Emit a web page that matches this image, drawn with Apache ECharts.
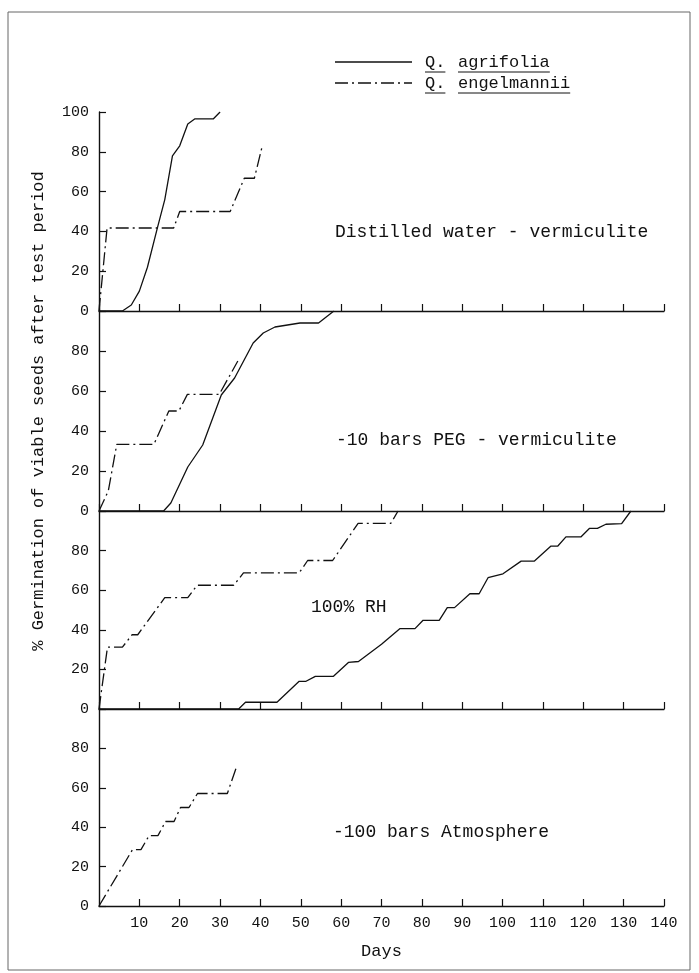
<!DOCTYPE html>
<html>
<head>
<meta charset="utf-8">
<script src="https://cdn.jsdelivr.net/npm/echarts@6/dist/echarts.min.js"></script>
<style>
html, body { margin: 0; padding: 0; background: #fff; }
#chart { width: 699px; height: 973px; }
</style>
</head>
<body>
<div id="chart"></div>
<script>
// values (days, % germination)
const waterAgriDays = [0, 5.8, 8, 10, 12, 14.5, 16.3, 18.2, 20, 22, 23.7, 28.3, 30]
const waterAgriPct = [0, 0, 3, 10, 22, 42, 56, 78, 83, 94, 96.5, 96.5, 100]
const waterEngDays = [0, 2, 18.5, 20, 32.5, 36, 38.5, 40.5]
const waterEngPct = [0, 41.7, 41.7, 50, 50, 66.7, 66.7, 83.3]

const pegAgriDays = [0, 16, 17.8, 22, 25.7, 30.3, 33.6, 38.2, 40.7, 43.6, 49.8, 54.4, 58.2]
const pegAgriPct = [0, 0, 4, 22, 33, 58, 66.5, 84, 89, 92, 94, 94, 100]
const pegEngDays = [0, 2.3, 4.4, 13.6, 17.3, 19.8, 21.9, 29.8, 34.4]
const pegEngPct = [0, 10, 33.3, 33.3, 50, 50, 58.3, 58.3, 75]

const rhAgriDays = [0, 34.6, 36.3, 44.1, 49.6, 51.3, 53.6, 58.1, 61.8, 64.3, 70, 74.6, 78.3, 80.3, 84.3,
    86.3, 88.1, 91.9, 94.2, 96.4, 100.1, 104.6, 107.9, 112, 113.7, 115.7, 119.4, 121.5, 123.5, 125.6, 129.5, 131.8]
const rhAgriPct = [0, 0, 3.4, 3.4, 14, 14, 16.5, 16.5, 23.5, 24, 32.7, 40.6, 40.6, 44.8, 44.8,
    51.2, 51.2, 58.2, 58.2, 66.3, 68.3, 74.7, 74.7, 82.3, 82.3, 86.9, 86.9, 91.2, 91.2, 93.3, 93.6, 100]
const rhEngDays = [0, 2.1, 5.8, 8.2, 9.6, 16.3, 22, 24.3, 33.4, 35.8, 49.6, 51.7, 57.9, 64.2, 72.3, 74.1]
const rhEngPct = [0, 31.25, 31.25, 37.5, 37.5, 56.25, 56.25, 62.5, 62.5, 68.75, 68.75, 75, 75, 93.75, 93.75, 100]

const atmEngDays = [0, 8.3, 10.4, 12.4, 14.6, 16.5, 18.6, 20.2, 22.3, 24.4, 31.8, 34.2]
const atmEngPct = [0, 28.6, 28.6, 35.7, 35.7, 42.9, 42.9, 50, 50, 57.1, 57.1, 71.4]

const panelNames = ['Distilled water - vermiculite', '-10 bars PEG - vermiculite', '100% RH', '-100 bars Atmosphere']
const speciesNames = ['agrifolia', 'engelmannii']

const font = '"Liberation Mono", monospace'
const ink = '#111'
const dashDot = [13, 4, 2, 4]

function zip(xs, ys) {
    return xs.map((x, i) => [x, ys[i]])
}

// panel layout
const left = 99, width = 565
const tops = [112, 311, 511, 709]
const heights = [199, 200, 198, 197]

let grids = [], xAxes = [], yAxes = []
for (let i = 0; i < 4; i++) {
    grids.push({left: left, width: width, top: tops[i], height: heights[i]})
    xAxes.push({
        type: 'value', gridIndex: i, min: 0, max: 140, interval: 10,
        axisLine: {lineStyle: {color: ink, width: 1.4}},
        axisTick: {inside: true, length: 7, lineStyle: {color: ink, width: 1.2}},
        axisLabel: {show: i === 3, showMinLabel: false, color: ink, fontFamily: font, fontSize: 15, margin: 10},
        splitLine: {show: false},
        name: i === 3 ? 'Days' : '', nameLocation: 'middle', nameGap: 37,
        nameTextStyle: {color: ink, fontFamily: font, fontSize: 17}
    })
    yAxes.push({
        type: 'value', gridIndex: i, min: 0, max: 100, interval: 20,
        axisLine: {show: true, lineStyle: {color: ink, width: 1.4}},
        axisTick: {show: true, inside: true, length: 7, lineStyle: {color: ink, width: 1.2}},
        axisLabel: {color: ink, fontFamily: font, fontSize: 15, margin: 10, showMaxLabel: i === 0},
        splitLine: {show: false},
        name: i === 1 ? '% Germination of viable seeds after test period' : '',
        nameLocation: 'middle', nameGap: 52, nameRotate: 90,
        nameTextStyle: {color: ink, fontFamily: font, fontSize: 17}
    })
}

function solid(idx, data) {
    return {type: 'line', xAxisIndex: idx, yAxisIndex: idx, data: data, symbol: 'none',
        lineStyle: {color: ink, width: 1.3}, z: 3}
}
function dashed(idx, data) {
    return {type: 'line', xAxisIndex: idx, yAxisIndex: idx, data: data, symbol: 'none',
        lineStyle: {color: ink, width: 1.3, type: dashDot}, z: 3}
}

let series = [
    solid(0, zip(waterAgriDays, waterAgriPct)),
    dashed(0, zip(waterEngDays, waterEngPct)),
    solid(1, zip(pegAgriDays, pegAgriPct)),
    dashed(1, zip(pegEngDays, pegEngPct)),
    solid(2, zip(rhAgriDays, rhAgriPct)),
    dashed(2, zip(rhEngDays, rhEngPct)),
    dashed(3, zip(atmEngDays, atmEngPct))
]

// text widths for the underlined legend words
const legendFont = '17px "Liberation Mono"'
const ctx = document.createElement('canvas').getContext('2d')
ctx.font = legendFont
function w(t) { return ctx.measureText(t).width }

let legendY = [62, 83]
let graphic = [
    {type: 'rect', shape: {x: 8, y: 12, width: 682, height: 958}, style: {fill: 'none', stroke: '#666', lineWidth: 1}, silent: true}
]
for (let k = 0; k < 2; k++) {
    let y = legendY[k]
    graphic.push({type: 'line', shape: {x1: 335, y1: y, x2: 412, y2: y},
        style: {stroke: ink, lineWidth: 1.3, lineDash: k === 1 ? dashDot : null}})
    graphic.push({type: 'text', x: 425, y: y, style: {text: 'Q.', font: legendFont, fill: ink, verticalAlign: 'middle'}})
    graphic.push({type: 'line', shape: {x1: 425, y1: y + 10, x2: 425 + w('Q.'), y2: y + 10}, style: {stroke: ink, lineWidth: 1}})
    graphic.push({type: 'text', x: 458, y: y, style: {text: speciesNames[k], font: legendFont, fill: ink, verticalAlign: 'middle'}})
    graphic.push({type: 'line', shape: {x1: 458, y1: y + 10, x2: 458 + w(speciesNames[k]), y2: y + 10}, style: {stroke: ink, lineWidth: 1}})
}
const labelPos = [[335, 232], [336, 440], [311, 607], [333, 832]]
panelNames.forEach((t, i) => {
    graphic.push({type: 'text', x: labelPos[i][0], y: labelPos[i][1],
        style: {text: t, font: '18px "Liberation Mono"', fill: ink, verticalAlign: 'middle'}})
})

let option = {
    animation: false,
    backgroundColor: '#fff',
    grid: grids,
    xAxis: xAxes,
    yAxis: yAxes,
    series: series,
    graphic: graphic
}

let mychart = echarts.init(document.getElementById('chart'))
mychart.setOption(option)
</script>
</body>
</html>
